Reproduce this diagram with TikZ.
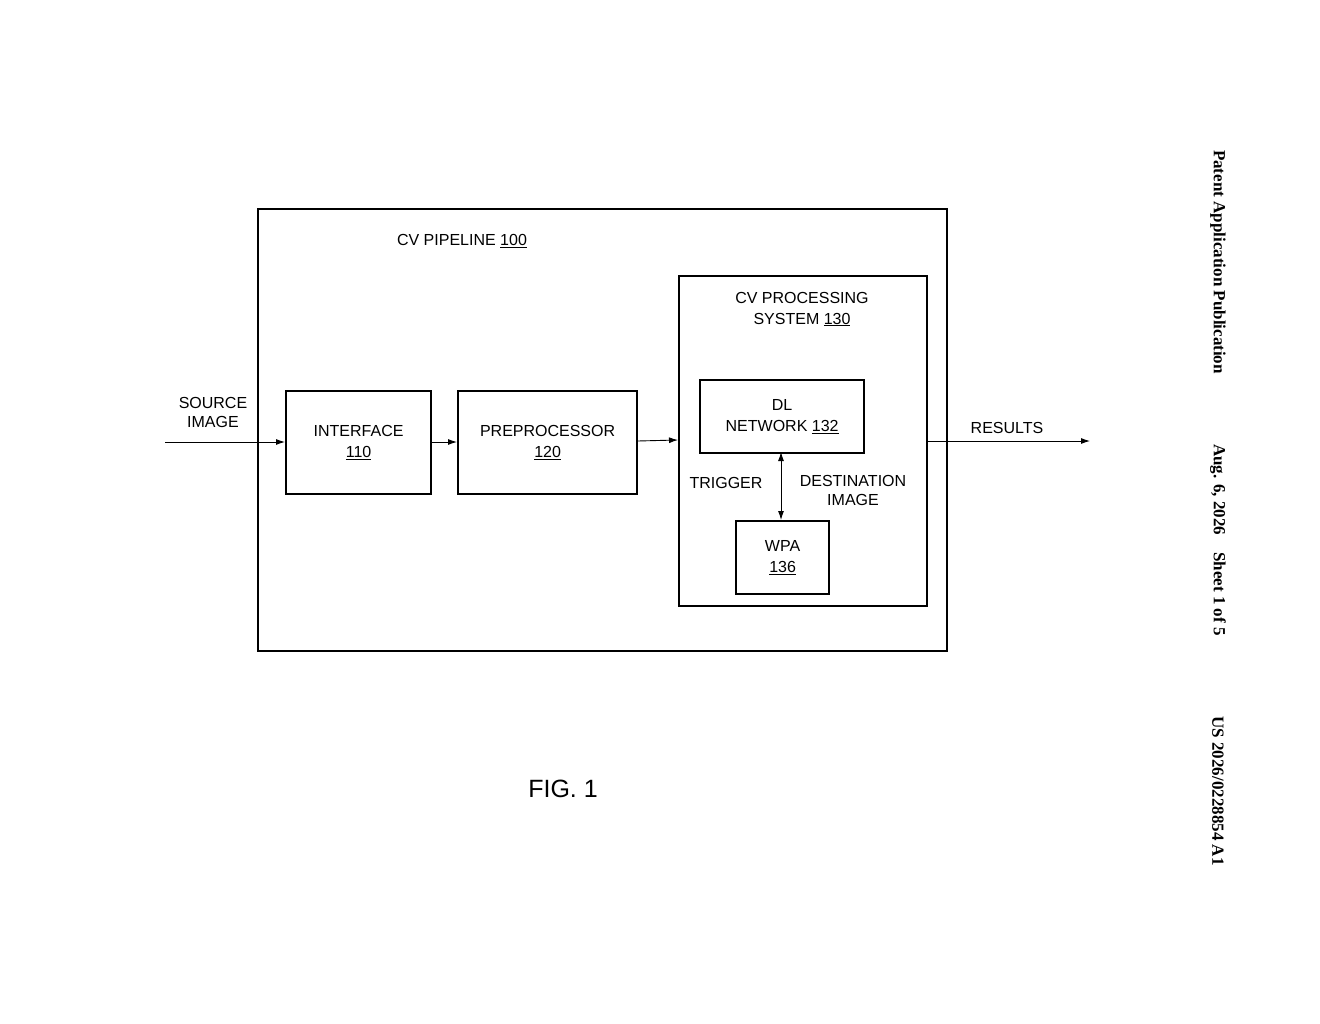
\documentclass[tikz,border=0pt]{standalone}
\usepackage{fontspec}
\setmainfont{Liberation Sans}
\newfontfamily\serifb{Liberation Serif}
\usetikzlibrary{arrows.meta}
\begin{document}
\begin{tikzpicture}[x=1pt,y=-1pt,
  box/.style={draw,line width=2.2pt},
  lbl/.style={font=\fontsize{16}{19}\selectfont,align=center},
  conn/.style={line width=0.9pt,-{Latex[length=9pt,width=6pt]}}]
\useasboundingbox (0,0) rectangle (1320,1024);
\node[box,minimum width=689pt,minimum height=442pt,anchor=north west] (pipe) at (257,208) {};
\node[lbl] (pipelbl) at (462,241) {CV PIPELINE \underline{100}};
\node[box,minimum width=145pt,minimum height=103pt,anchor=north west,lbl] (iface) at (285,390) {INTERFACE\\[2pt]\underline{110}};
\node[box,minimum width=179pt,minimum height=103pt,anchor=north west,lbl] (pre) at (457,390) {PREPROCESSOR\\[2pt]\underline{120}};
\node[box,minimum width=248pt,minimum height=330pt,anchor=north west] (cvs) at (678,275) {};
\node[lbl] (cvslbl) at (802,309) {CV PROCESSING\\[2pt]SYSTEM \underline{130}};
\node[box,minimum width=164pt,minimum height=73pt,anchor=north west,lbl] (dl) at (699,379) {DL\\[2pt]NETWORK \underline{132}};
\node[box,minimum width=93pt,minimum height=73pt,anchor=north west,lbl] (wpa) at (735,520) {WPA\\[2pt]\underline{136}};
\coordinate (src) at (165,442);
\coordinate (res) at (1090,441);
\draw[conn] (src) -- (iface.west |- src);
\node[lbl] (srclbl) at (213,412) {SOURCE\\IMAGE};
\draw[conn] (iface.east |- 0,442) -- (pre.west |- 0,442);
\draw[conn] (pre.east |- 0,441) -- (cvs.west |- 0,440);
\draw[conn] (cvs.east |- res) -- (res);
\node[lbl] (reslbl) at (1007,428) {RESULTS};
\draw[line width=0.9pt,{Latex[length=9pt,width=6pt]}-{Latex[length=9pt,width=6pt]}] (781,452) -- (781,520);
\node[lbl] (trig) at (726,483) {TRIGGER};
\node[lbl] (dest) at (853,490) {DESTINATION\\IMAGE};
\node[font=\fontsize{25}{30}\selectfont] (fig) at (563,789) {FIG. 1};
\node[font=\serifb\bfseries\fontsize{17}{20}\selectfont,rotate=-90] (h1) at (1218,262) {Patent Application Publication};
\node[font=\serifb\bfseries\fontsize{17}{20}\selectfont,rotate=-90] (h2) at (1218,540) {Aug. 6, 2026\quad Sheet 1 of 5};
\node[font=\serifb\bfseries\fontsize{17}{20}\selectfont,rotate=-90] (h3) at (1218,791) {US 2026/0228854 A1};
\end{tikzpicture}
\end{document}
